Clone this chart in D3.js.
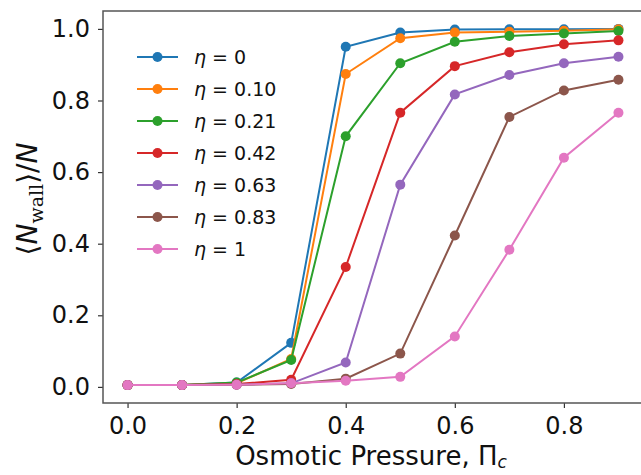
<!DOCTYPE html>
<html>
<head>
<meta charset="utf-8">
<script src="https://cdn.jsdelivr.net/npm/d3@7"></script>
<style>
  body { margin: 0; background: #fff; }
  text { font-family: "DejaVu Sans", sans-serif; fill: #111; }
</style>
</head>
<body>
<div id="chart"></div>
<script>
// osmotic pressure values (x)
const pressures = [0.0, 0.1, 0.2, 0.3, 0.4, 0.5, 0.6, 0.7, 0.8, 0.9];

const etaLabels = ["0", "0.10", "0.21", "0.42", "0.63", "0.83", "1"];
const colors = ["#1f77b4", "#ff7f0e", "#2ca02c", "#d62728", "#9467bd", "#8c564b", "#e377c2"];

// <N_wall>/N for each eta
const eta0   = [0.005, 0.005, 0.012, 0.123, 0.950, 0.990, 0.998, 0.999, 0.999, 1.000];
const eta010 = [0.005, 0.005, 0.010, 0.078, 0.874, 0.974, 0.990, 0.992, 0.995, 0.999];
const eta021 = [0.005, 0.005, 0.012, 0.075, 0.700, 0.904, 0.964, 0.980, 0.987, 0.994];
const eta042 = [0.005, 0.005, 0.008, 0.020, 0.335, 0.766, 0.896, 0.935, 0.957, 0.968];
const eta063 = [0.005, 0.005, 0.006, 0.010, 0.068, 0.565, 0.817, 0.871, 0.904, 0.922];
const eta083 = [0.005, 0.005, 0.006, 0.008, 0.023, 0.093, 0.423, 0.754, 0.828, 0.858];
const eta1   = [0.005, 0.005, 0.006, 0.010, 0.017, 0.028, 0.141, 0.383, 0.640, 0.766];
const seriesValues = [eta0, eta010, eta021, eta042, eta063, eta083, eta1];

const xTicks = [0.0, 0.2, 0.4, 0.6, 0.8];
const yTicks = [0.0, 0.2, 0.4, 0.6, 0.8, 1.0];

const W = 641, H = 475;
const margin = {top: 11, right: -2, bottom: 72, left: 103};
const width = W - margin.left - margin.right,
      height = H - margin.top - margin.bottom;

const svg = d3.select("#chart").append("svg")
    .attr("width", W)
    .attr("height", H);

const g = svg.append("g")
    .attr("transform", `translate(${margin.left},${margin.top})`);

const x = d3.scaleLinear().domain([-0.045, 0.945]).range([0, width]);
const y = d3.scaleLinear().domain([-0.045, 1.05]).range([height, 0]);

// axes
const xAxis = g.append("g")
    .attr("transform", `translate(0,${height})`)
    .call(d3.axisBottom(x).tickValues(xTicks).tickFormat(d3.format(".1f")).tickSize(5).tickPadding(9));
const yAxis = g.append("g")
    .call(d3.axisLeft(y).tickValues(yTicks).tickFormat(d3.format(".1f")).tickSize(5).tickPadding(8));

[xAxis, yAxis].forEach(a => {
  a.select(".domain").remove();
  a.selectAll(".tick line").attr("stroke", "#333").attr("stroke-width", 1.2);
  a.selectAll(".tick text")
    .attr("fill", "#111")
    .style("font-family", "DejaVu Sans, sans-serif")
    .style("font-size", "24px");
});

// frame
g.append("rect")
    .attr("width", width)
    .attr("height", height)
    .attr("fill", "none")
    .attr("stroke", "#555")
    .attr("stroke-width", 1.5);

// lines
const line = d3.line()
    .x((d, i) => x(pressures[i]))
    .y(d => y(d));

seriesValues.forEach(function(vals, k) {
  g.append("path")
    .datum(vals)
    .attr("fill", "none")
    .attr("stroke", colors[k])
    .attr("stroke-width", 2)
    .attr("d", line);
  g.selectAll(null)
    .data(vals)
    .enter().append("circle")
    .attr("cx", (d, i) => x(pressures[i]))
    .attr("cy", d => y(d))
    .attr("r", 5)
    .attr("fill", colors[k]);
});

// legend
const legend = svg.append("g").attr("transform", "translate(137,57)");
etaLabels.forEach(function(lab, k) {
  const row = legend.append("g").attr("transform", `translate(0,${k * 32})`);
  row.append("line")
    .attr("x1", 0).attr("x2", 41)
    .attr("stroke", colors[k]).attr("stroke-width", 2);
  row.append("circle").attr("cx", 20.5).attr("r", 5).attr("fill", colors[k]);
  const t = row.append("text")
    .attr("x", 57).attr("y", 7)
    .style("font-size", "19px");
  t.append("tspan").style("font-style", "italic").text("η");
  t.append("tspan").text(" = " + lab);
});

// axis labels
svg.append("text")
    .attr("x", 371).attr("y", 465)
    .attr("text-anchor", "middle")
    .style("font-size", "26px")
    .text("Osmotic Pressure, Π")
  .append("tspan")
    .attr("dy", 3)
    .style("font-size", "17px")
    .style("font-style", "italic")
    .text("c");

const ylab = svg.append("text")
    .attr("transform", "translate(37,199) rotate(-90)")
    .attr("text-anchor", "middle")
    .style("font-size", "28px");
ylab.append("tspan").text("⟨");
ylab.append("tspan").style("font-style", "italic").text("N");
ylab.append("tspan").attr("dy", 6).style("font-size", "19px")
    .style("font-family", "DejaVu Serif, serif").text("wall");
ylab.append("tspan").attr("dy", -6).text("⟩/");
ylab.append("tspan").style("font-style", "italic").text("N");
</script>
</body>
</html>
